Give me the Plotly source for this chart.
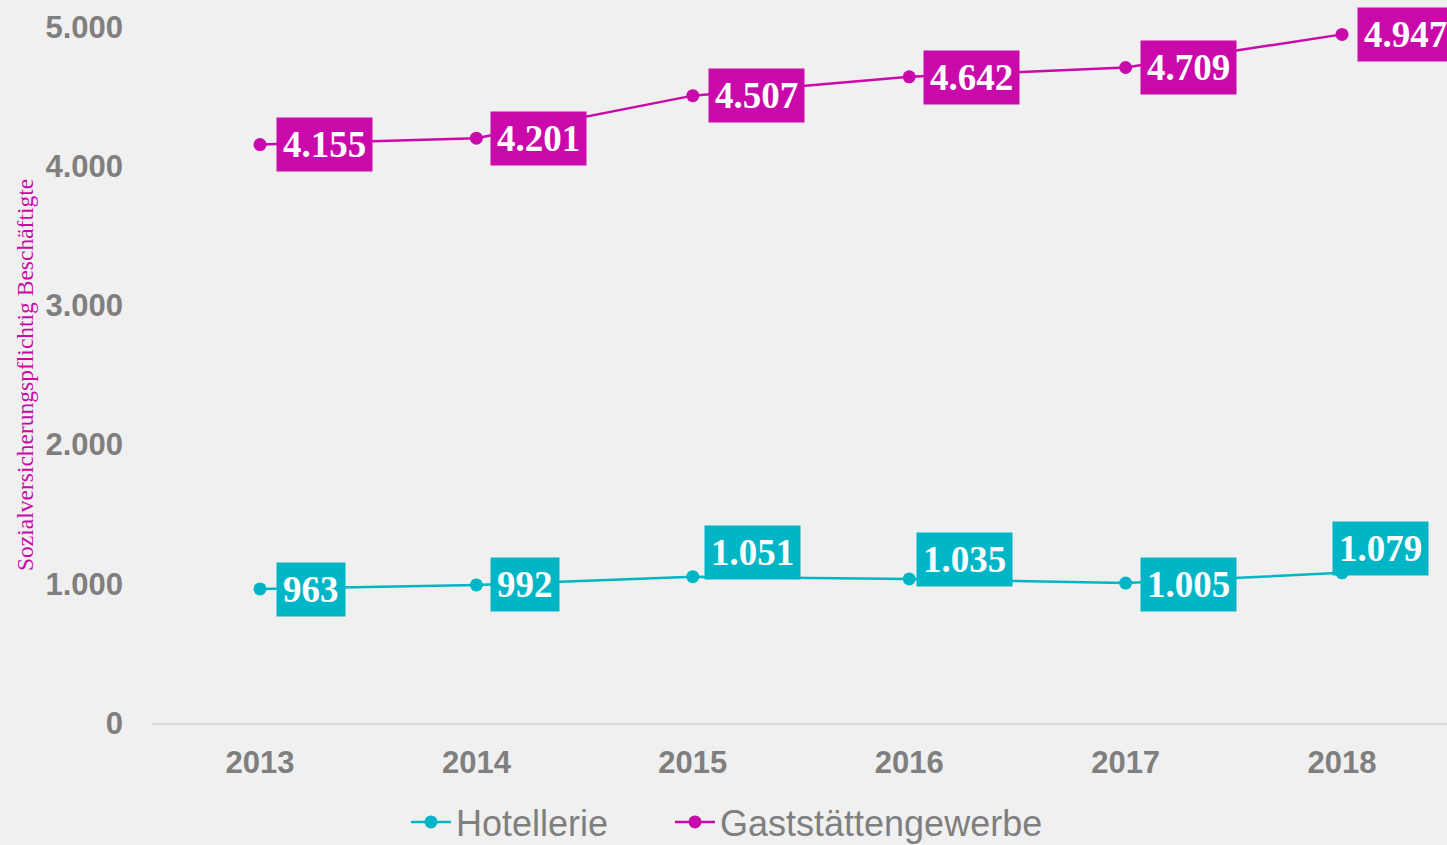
import plotly.graph_objects as go

years = ["2013", "2014", "2015", "2016", "2017", "2018"]
hotellerie = [963, 992, 1051, 1035, 1005, 1079]
gaststaetten = [4155, 4201, 4507, 4642, 4709, 4947]
hotel_labels = ["963", "992", "1.051", "1.035", "1.005", "1.079"]
gast_labels = ["4.155", "4.201", "4.507", "4.642", "4.709", "4.947"]
y_ticks = [0, 1000, 2000, 3000, 4000, 5000]
y_ticktext = ["0", "1.000", "2.000", "3.000", "4.000", "5.000"]

CYAN = "#00B6C6"
MAGENTA = "#C909A9"
GRAY = "#7F7F7F"
BG = "#F0F0F0"

# label offsets (pixels): (xshift, yshift)
hotel_off = [(16, -1), (14, 0), (11, 24), (7, 19), (14, -1), (-10, 24)]
gast_off = [(16, 0), (14, 0), (15, 0), (14, -1), (14, 0), (15, 0)]

fig = go.Figure()
fig.add_trace(go.Scatter(x=years, y=hotellerie, name="Hotellerie", mode="lines+markers",
                         line=dict(color=CYAN, width=2.5), marker=dict(size=13, color=CYAN),
                         cliponaxis=False, legend="legend"))
fig.add_trace(go.Scatter(x=years, y=gaststaetten, name="Gaststättengewerbe", mode="lines+markers",
                         line=dict(color=MAGENTA, width=2.5), marker=dict(size=13, color=MAGENTA),
                         cliponaxis=False, legend="legend2"))

annos = []
for vals, labs, offs, col in [(hotellerie, hotel_labels, hotel_off, CYAN),
                              (gaststaetten, gast_labels, gast_off, MAGENTA)]:
    for i, (v, t, (dx, dy)) in enumerate(zip(vals, labs, offs)):
        annos.append(dict(x=i, y=v, xref="x", yref="y", text="<b>%s</b>" % t,
                          showarrow=False, xanchor="left", yanchor="middle",
                          xshift=dx, yshift=dy, bgcolor=col, borderpad=6,
                          font=dict(family="Liberation Serif", size=37, color="white")))

annos.append(dict(x=(25 - 152) / 1295, y=0.5, xref="paper", yref="paper",
                  text="Sozialversicherungspflichtig Beschäftigte", textangle=-90,
                  showarrow=False, xanchor="center", yanchor="middle",
                  font=dict(family="Liberation Serif", size=23.5, color=MAGENTA)))

leg_common = dict(orientation="h", yanchor="middle", y=(723 - 822) / 696,
                  font=dict(family="Liberation Sans", size=36, color=GRAY),
                  bgcolor="rgba(0,0,0,0)", itemwidth=40)

fig.update_layout(
    width=1447, height=845,
    margin=dict(l=152, r=0, t=27, b=122, autoexpand=False),
    paper_bgcolor=BG, plot_bgcolor=BG,
    annotations=annos,
    showlegend=True,
    legend=dict(x=(406 - 152) / 1295, xanchor="left", **leg_common),
    legend2=dict(x=(670 - 152) / 1295, xanchor="left", **leg_common),
    xaxis=dict(type="category", range=[-0.499, 5.485], showgrid=False, zeroline=False,
               showline=True, linecolor="#D9D9D9", linewidth=1.5,
               ticks="", ticklabelstandoff=11,
               tickfont=dict(family="Liberation Sans", size=31, color=GRAY, weight="bold")),
    yaxis=dict(range=[0, 5000], tickvals=y_ticks, ticktext=y_ticktext,
               showgrid=False, zeroline=False, showline=False, ticks="",
               ticklabelstandoff=28,
               tickfont=dict(family="Liberation Sans", size=31, color=GRAY, weight="bold")),
)

fig.write_html("out.html", config={"displayModeBar": False},
               post_script="document.body.style.margin='0';")
